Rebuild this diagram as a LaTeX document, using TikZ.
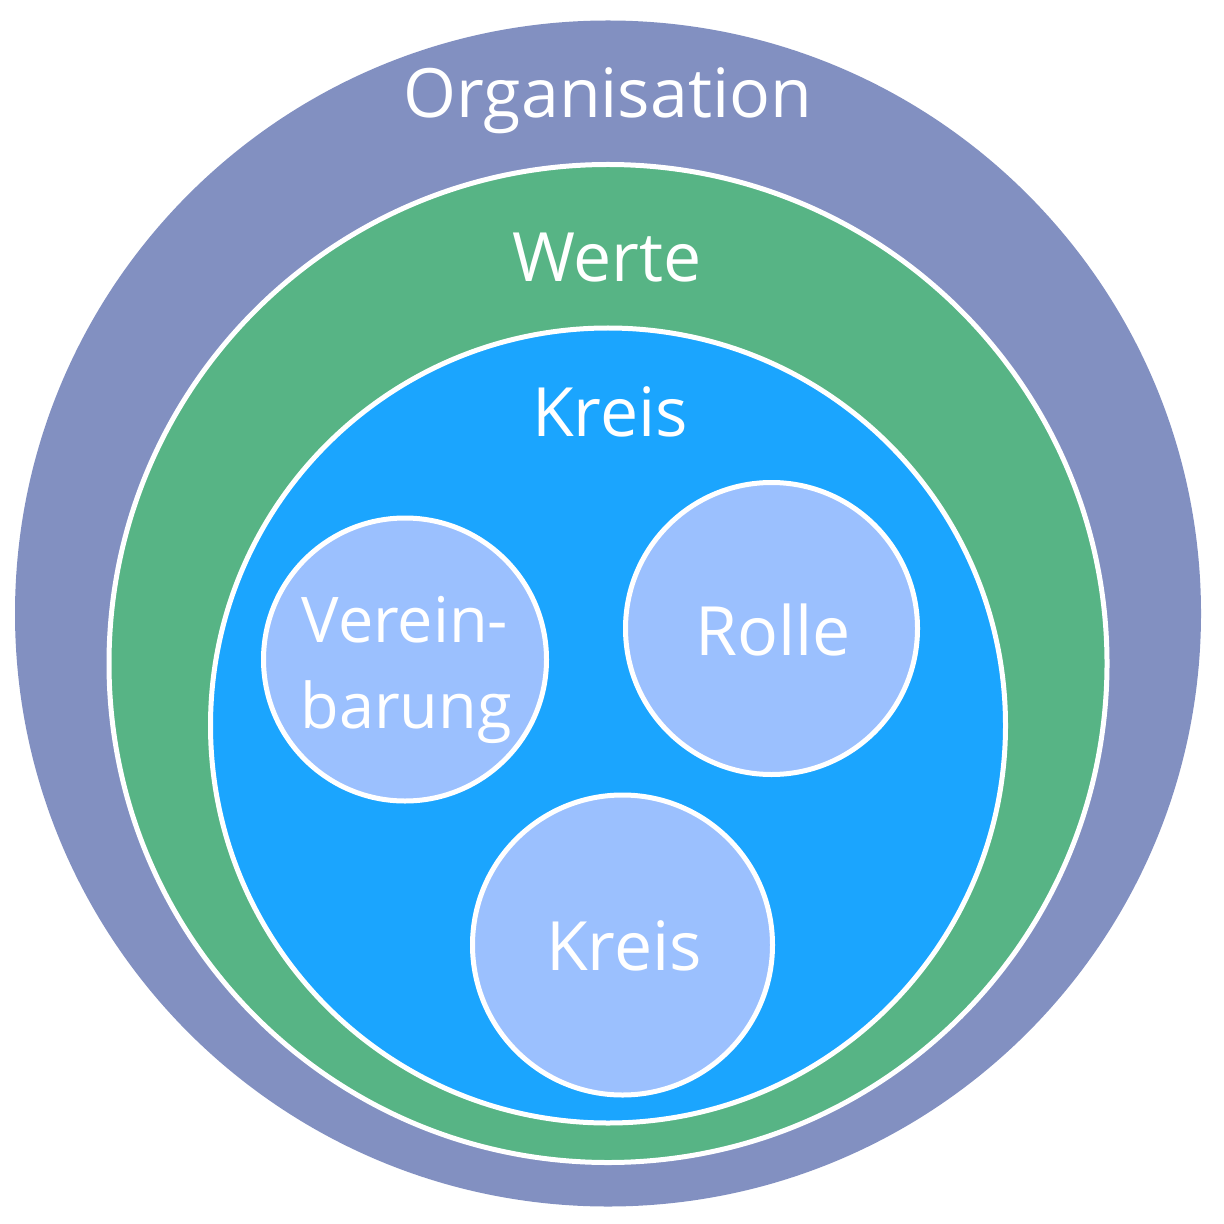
\documentclass[tikz,border=0pt]{standalone}
\usepackage{fontspec}
\setmainfont{Open Sans}
\definecolor{orgc}{HTML}{8290C1}
\definecolor{wertc}{HTML}{57B485}
\definecolor{kreisc}{HTML}{1BA5FE}
\definecolor{smallc}{HTML}{9BC0FE}
\tikzset{
  ring/.style={circle, inner sep=0pt, draw=white, line width=2.5pt},
  lbl/.style={text=white, anchor=base, inner sep=0pt, font=\fontsize{34}{43}\selectfont, align=center},
  slbl/.style={lbl, font=\fontsize{31.5}{43}\selectfont}
}
\begin{document}
\begin{tikzpicture}[x=0.5pt,y=-0.5pt]
\useasboundingbox (0,0) rectangle (1224,1224);
\node[circle, inner sep=0pt, fill=orgc, minimum size=593pt] (org) at (608,613.5) {};
\node[ring, fill=wertc, minimum size=499pt] (werte) at (608,663.5) {};
\node[ring, fill=kreisc, minimum size=397.5pt] (kreis) at (608,725.5) {};
\node[ring, fill=smallc, minimum size=141.5pt] (verein) at (405,659.5) {};
\node[ring, fill=smallc, minimum size=146pt] (rolle) at (771.5,628.5) {};
\node[ring, fill=smallc, minimum size=150pt] (skreis) at (622.5,945) {};
\node[lbl] (torg) at (608,118) {Organisation};
\node[lbl] (twerte) at (607,282) {Werte};
\node[lbl] (tkreis) at (610,437) {Kreis};
\node[lbl] (trolle) at (773,655) {Rolle};
\node[lbl] (tskreis) at (624,970) {Kreis};
\node[slbl] (tverein1) at (405,642) {Verein-};
\node[slbl] (tverein2) at (406,728) {barung};
\end{tikzpicture}
\end{document}
